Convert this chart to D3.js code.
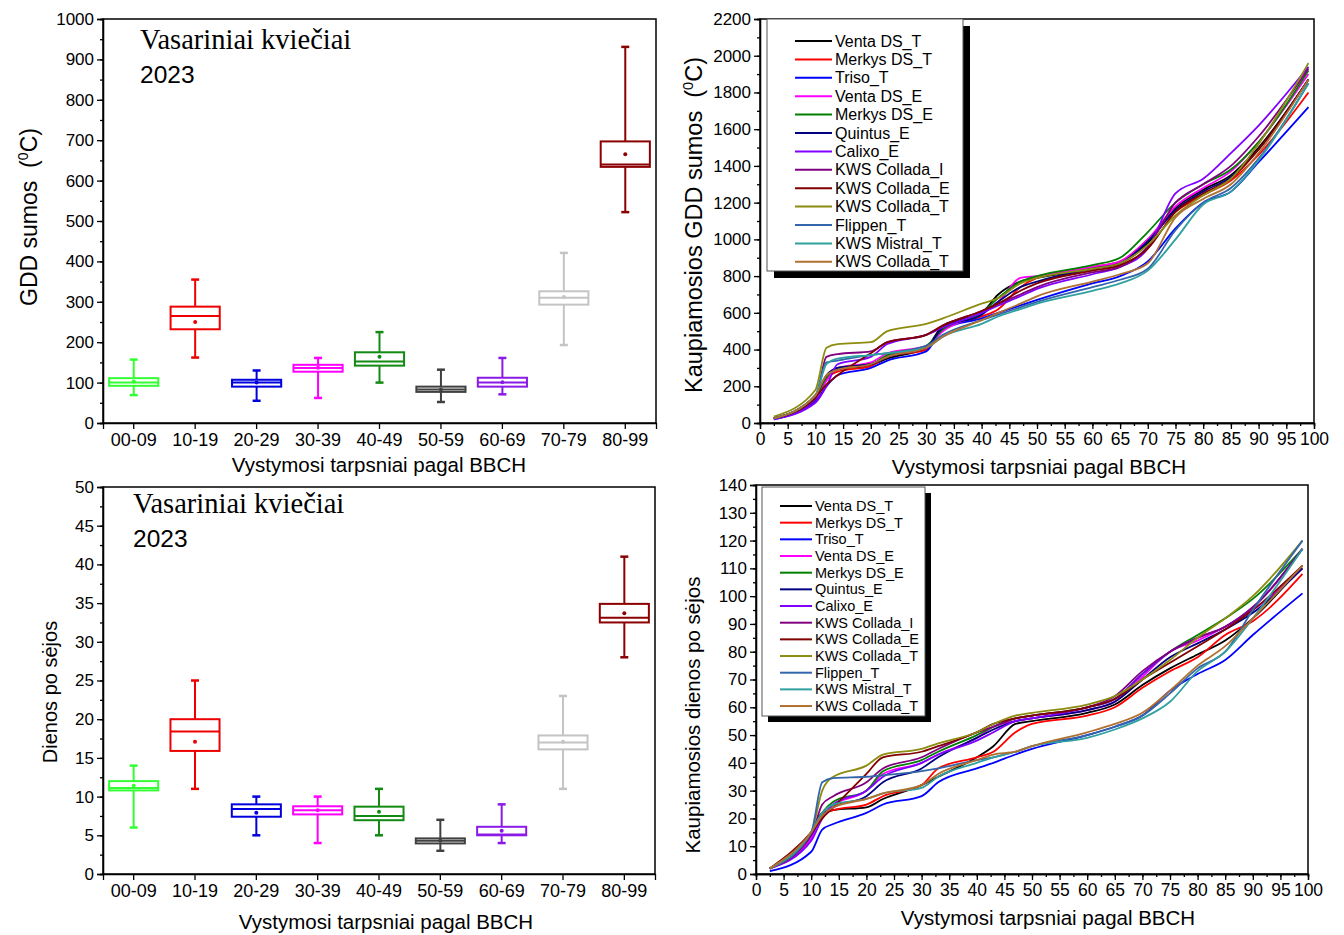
<!DOCTYPE html>
<html><head><meta charset="utf-8">
<script src="https://cdn.jsdelivr.net/npm/d3@7"></script>
<style>
body{margin:0;background:#fff;}
svg{font-family:Arial,"Liberation Sans",sans-serif;}
.tick text{fill:#000;}
.domain,.tick line{stroke:#000;stroke-width:1.3;}
</style></head><body>
<svg id="c" width="1344" height="935"></svg>
<script>
// ---------- Box plot data ----------
const categories = ["00-09","10-19","20-29","30-39","40-49","50-59","60-69","70-79","80-99"];
const boxColors = ["#33ff33","#ee0000","#0000dd","#ff00ff","#138a13","#404040","#8a1ae6","#c4c4c4","#8b0000"];

const gddLow  = [69, 162, 55, 62, 100, 52, 71, 193, 522];
const gddQ1   = [92, 232, 90, 127, 142, 77, 90, 293, 634];
const gddMed  = [100, 265, 100, 136, 152, 83, 100, 310, 640];
const gddQ3   = [111, 288, 107, 144, 175, 90, 112, 326, 697];
const gddHigh = [157, 355, 130, 161, 225, 132, 161, 421, 931];
const gddMean = [103, 250, 100, 137, 164, 83, 101, 312, 665];

const daysLow  = [6, 11, 5, 4, 5, 3, 4, 11, 28];
const daysQ1   = [10.8, 15.9, 7.4, 7.7, 6.95, 3.95, 5.0, 16.1, 32.5];
const daysMed  = [11.1, 18.4, 8.4, 8.25, 7.5, 4.3, 5.1, 17.0, 33.1];
const daysQ3   = [12.0, 20.0, 9.0, 8.75, 8.7, 4.6, 6.1, 17.9, 34.9];
const daysHigh = [14, 25, 10, 10, 11, 7, 9, 23, 41];
const daysMean = [11.4, 17.1, 7.9, 8.25, 8.05, 4.3, 5.6, 17.1, 33.7];

const gddTicks = [0,100,200,300,400,500,600,700,800,900,1000];
const daysTicks = [0,5,10,15,20,25,30,35,40,45,50];

// ---------- Cumulative line data ----------
const seriesNames = ["Venta DS_T","Merkys DS_T","Triso_T","Venta DS_E","Merkys DS_E","Quintus_E","Calixo_E",
  "KWS Collada_I","KWS Collada_E","KWS Collada_T","Flippen_T","KWS Mistral_T","KWS Collada_T"];
const seriesColors = ["#000000","#ff0000","#0000ff","#ff00ff","#008000","#000080","#8000ff",
  "#800080","#800000","#8c8c10","#3366aa","#30a0a0","#b07030"];

const bbch = [2.5, 10, 12, 14, 20, 23, 30, 33, 40, 43, 47, 50, 60, 65, 70, 75, 80, 85, 90, 99];

const gddVentaDsT    = [25,150,250,290,315,350,410,530,600,700,770,790,840,870,980,1170,1270,1350,1500,1870];
const gddMerkysDsT   = [25,140,240,280,310,360,400,520,580,620,740,790,850,880,1000,1150,1240,1320,1460,1800];
const gddTrisoT      = [20,120,200,260,300,340,390,510,570,600,640,670,760,800,880,1060,1200,1260,1420,1720];
const gddVentaDsE    = [25,130,230,300,330,380,420,500,600,660,790,800,850,880,1000,1180,1280,1370,1530,1900];
const gddMerkysDsE   = [25,140,250,300,320,370,420,510,600,680,770,800,860,900,1040,1200,1300,1380,1530,1920];
const gddQuintusE    = [25,150,260,300,320,360,410,520,590,660,740,770,840,870,990,1160,1260,1340,1490,1870];
const gddCalixoE     = [20,110,200,320,360,430,480,520,600,640,690,730,810,850,950,1250,1330,1470,1620,1940];
const gddColladaI    = [25,130,360,375,390,440,480,530,610,650,700,740,820,850,960,1200,1300,1400,1560,1930];
const gddColladaE    = [25,140,210,260,380,440,480,530,610,650,720,760,830,860,950,1150,1250,1330,1490,1870];
const gddColladaT    = [35,180,410,430,440,500,540,570,650,680,760,790,840,870,970,1130,1240,1330,1520,1960];
const gddFlippenT    = [25,150,330,340,370,380,420,480,560,590,630,660,740,780,840,1050,1200,1280,1440,1850];
const gddMistralT    = [25,150,320,350,370,380,410,470,540,580,620,650,720,760,830,1000,1190,1260,1430,1850];
const gddColladaT2   = [25,150,260,290,320,360,410,470,560,600,650,690,770,810,870,1120,1220,1300,1470,1870];

const daysVentaDsT   = [2,15,22,23,24,27,32,35,42,46,54,55,58,61,68,74,79,84,92,111];
const daysMerkysDsT  = [2,14,21,23,25,28,32,38,42,44,51,54,57,60,67,73,78,86,91,108];
const daysTrisoT     = [1,8,16,18,22,25,28,33,38,40,43,45,50,53,57,66,72,77,86,101];
const daysVentaDsE   = [2,13,22,25,30,36,40,43,49,53,55,56,59,62,71,80,84,89,95,110];
const daysMerkysDsE  = [2,15,22,26,30,37,41,44,50,53,56,57,60,63,72,80,86,92,99,117];
const daysQuintusE   = [2,14,21,24,28,33,38,42,49,52,55,56,59,62,70,78,83,88,94,110];
const daysCalixoE    = [2,12,20,25,30,35,40,43,48,51,55,56,60,63,72,80,85,89,96,117];
const daysColladaI   = [2,14,25,28,33,38,42,45,51,53,56,57,60,64,73,80,85,89,96,117];
const daysColladaE   = [2,15,20,24,36,42,44,46,51,54,56,57,60,63,70,76,82,88,95,111];
const daysColladaT   = [2,15,30,35,39,43,45,47,51,54,57,58,61,64,70,77,85,92,100,120];
const daysFlippenT   = [2,15,33,34.5,35,35.5,37,38,41,42,44,46,50,53,57,65,74,80,95,120];
const daysMistralT   = [2,15,22,25,27,29,31,35,40,42,44,46,49,52,56,62,73,80,92,117];
const daysColladaT2  = [2,15,21,24,27,29,32,36,41,43,44,46,51,54,58,66,75,82,92,111];

const gddSeries = [gddVentaDsT,gddMerkysDsT,gddTrisoT,gddVentaDsE,gddMerkysDsE,gddQuintusE,gddCalixoE,
  gddColladaI,gddColladaE,gddColladaT,gddFlippenT,gddMistralT,gddColladaT2];
const daysSeries = [daysVentaDsT,daysMerkysDsT,daysTrisoT,daysVentaDsE,daysMerkysDsE,daysQuintusE,daysCalixoE,
  daysColladaI,daysColladaE,daysColladaT,daysFlippenT,daysMistralT,daysColladaT2];

const bbchTicks = d3.range(0,101,5);
const cumGddTicks = d3.range(0,2201,200);
const cumDaysTicks = d3.range(0,141,10);

// ---------- Drawing ----------
const svg = d3.select("#c");
const fmt = d3.format("d");

function axes(x0,x1,y0,y1,xAxisGen,xMinor,yScale,yMajor,yMinor,yFont,xFont){
  svg.append("g").attr("transform",`translate(${x0},0)`)
    .call(d3.axisLeft(yScale).tickValues(yMinor).tickSize(3).tickFormat(""));
  const gy2 = svg.append("g").attr("transform",`translate(${x0},0)`)
    .call(d3.axisLeft(yScale).tickValues(yMajor).tickSize(6).tickPadding(3).tickFormat(fmt));
  gy2.selectAll("text").style("font-size",yFont+"px");
  if (xMinor) svg.append("g").attr("transform",`translate(0,${y1})`).call(xMinor);
  const gx2 = svg.append("g").attr("transform",`translate(0,${y1})`).call(xAxisGen);
  gx2.selectAll("text").style("font-size",xFont+"px");
  svg.append("rect").attr("x",x0).attr("y",y0).attr("width",x1-x0).attr("height",y1-y0)
    .attr("fill","none").attr("stroke","#000").attr("stroke-width",1.5);
}

function boxPanel(x0,x1,y0,y1,ymax,yMajor,yMinorStep,low,q1,med,q3,high,mean){
  const xb = d3.scaleBand().domain(categories).range([x0,x1]);
  const y = d3.scaleLinear().domain([0,ymax]).range([y1,y0]);
  const bw = xb.bandwidth()*0.8;
  const g = svg.append("g");
  categories.forEach((c,i)=>{
    const cx = xb(c)+xb.bandwidth()/2;
    const col = boxColors[i];
    const s = g.append("g").attr("stroke",col).attr("stroke-width",2).attr("fill","none");
    s.append("line").attr("x1",cx).attr("x2",cx).attr("y1",y(high[i])).attr("y2",y(q3[i]));
    s.append("line").attr("x1",cx).attr("x2",cx).attr("y1",y(q1[i])).attr("y2",y(low[i]));
    s.append("line").attr("x1",cx-4).attr("x2",cx+4).attr("y1",y(high[i])).attr("y2",y(high[i])).attr("stroke-width",2.5);
    s.append("line").attr("x1",cx-4).attr("x2",cx+4).attr("y1",y(low[i])).attr("y2",y(low[i])).attr("stroke-width",2.5);
    s.append("rect").attr("x",cx-bw/2).attr("width",bw).attr("y",y(q3[i])).attr("height",y(q1[i])-y(q3[i]));
    s.append("line").attr("x1",cx-bw/2).attr("x2",cx+bw/2).attr("y1",y(med[i])).attr("y2",y(med[i]));
    g.append("circle").attr("cx",cx).attr("cy",y(mean[i])).attr("r",2).attr("fill",col);
  });
  const yMinor = d3.range(0,ymax+0.001,yMinorStep);
  axes(x0,x1,y0,y1,d3.axisBottom(xb).tickSize(6).tickPadding(4),null,y,yMajor,yMinor,17,18);
}

function linePanel(x0,x1,y0,y1,ymax,yMajor,yMinorStep,series){
  const x = d3.scaleLinear().domain([0,100]).range([x0,x1]);
  const y = d3.scaleLinear().domain([0,ymax]).range([y1,y0]);
  const line = d3.line().x((d,i)=>x(bbch[i])).y(d=>y(d)).curve(d3.curveMonotoneX);
  const g = svg.append("g");
  series.forEach((s,i)=>{
    g.append("path").attr("d",line(s)).attr("fill","none").attr("stroke",seriesColors[i]).attr("stroke-width",1.8);
  });
  const yMinor = d3.range(0,ymax+0.001,yMinorStep);
  const xMinor = d3.axisBottom(x).tickValues(d3.range(0,100.1,2.5)).tickSize(3).tickFormat("");
  axes(x0,x1,y0,y1,d3.axisBottom(x).tickValues(bbchTicks).tickSize(6).tickPadding(4).tickFormat(fmt),xMinor,y,yMajor,yMinor,17,17.5);
}

function legend(lx,ly,w,h,sh,lineX0,lineX1,textX,row0,rowStep,fs){
  svg.append("rect").attr("x",lx+sh).attr("y",ly+sh).attr("width",w).attr("height",h).attr("fill","#000");
  svg.append("rect").attr("x",lx).attr("y",ly).attr("width",w).attr("height",h).attr("fill","#fff")
    .attr("stroke","#555").attr("stroke-width",1);
  seriesNames.forEach((n,i)=>{
    const yy = row0 + i*rowStep;
    svg.append("line").attr("x1",lineX0).attr("x2",lineX1).attr("y1",yy).attr("y2",yy)
      .attr("stroke",seriesColors[i]).attr("stroke-width",2);
    svg.append("text").attr("x",textX).attr("y",yy).attr("dy","0.35em").style("font-size",fs+"px").text(n);
  });
}

function title(x,y1,y2){
  svg.append("text").attr("x",x).attr("y",y1).style("font-family","'Liberation Serif','Times New Roman',serif")
    .style("font-size","28.5px").text("Vasariniai kvie\u010Diai");
  svg.append("text").attr("x",x).attr("y",y2).style("font-size","24.5px").text("2023");
}

function yTitle(x,y,label,withUnit,fs){
  const t = svg.append("text").attr("transform",`translate(${x},${y}) rotate(-90)`)
    .attr("text-anchor","middle").style("font-size",fs+"px");
  if (!withUnit){ t.text(label); return; }
  t.append("tspan").text(label + "\u00A0\u00A0(");
  t.append("tspan").attr("dy",-9).style("font-size",(fs*0.62)+"px").text("0");
  t.append("tspan").attr("dy",9).text("C)");
}
function xTitle(x,y,fs){
  svg.append("text").attr("x",x).attr("y",y).attr("text-anchor","middle").style("font-size",fs+"px")
    .text("Vystymosi tarpsniai pagal BBCH");
}

// Top-left
boxPanel(103,656,19,423,1000,gddTicks,50,gddLow,gddQ1,gddMed,gddQ3,gddHigh,gddMean);
title(140,49,83);
yTitle(37,217,"GDD sumos",true,23);
xTitle(379,472,20.5);

// Bottom-left
boxPanel(103,655,487,874,50,daysTicks,2.5,daysLow,daysQ1,daysMed,daysQ3,daysHigh,daysMean);
title(133,513,547);
yTitle(57,692,"Dienos po s\u0117jos",false,20);
xTitle(386,929,20.5);

// Top-right
linePanel(760,1314,19,423,2200,cumGddTicks,100,gddSeries);
yTitle(702,225,"Kaupiamosios GDD sumos",true,23.5);
xTitle(1039,474,20.5);
legend(767,19,196,252,7,795,832,835,41,18.4,16);

// Bottom-right
linePanel(756,1308,485,874,140,cumDaysTicks,5,daysSeries);
yTitle(700,715,"Kaupiamosios dienos po s\u0117jos",false,20.5);
xTitle(1048,925,20.5);
legend(762,487,163,229,6,780,812,815,506,16.67,14.5);
</script></body></html>
